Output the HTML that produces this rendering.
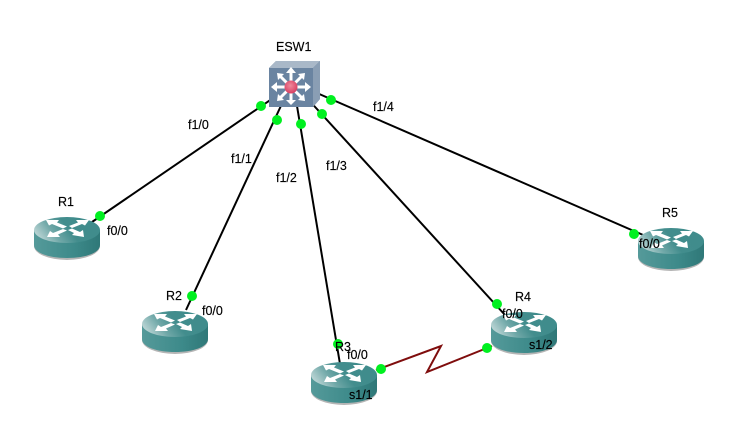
<!DOCTYPE html>
<html>
<head>
<meta charset="utf-8">
<style>
html,body{margin:0;padding:0;background:#fff;width:730px;height:435px;overflow:hidden}
svg{display:block}
text{font-family:"Liberation Sans",sans-serif;font-size:12.5px;fill:#000;stroke:#000;stroke-width:.15px}
</style>
</head>
<body>
<svg width="730" height="435" viewBox="0 0 730 435" xmlns="http://www.w3.org/2000/svg">
<defs>
<linearGradient id="top" x1="0" y1="0.7" x2="1" y2="0.4">
<stop offset="0" stop-color="#c4dada"/><stop offset="0.3" stop-color="#70a8a8"/><stop offset="0.55" stop-color="#428d8d"/><stop offset="1" stop-color="#3f8c8c"/>
</linearGradient>
<linearGradient id="side" x1="0" y1="0" x2="1" y2="0">
<stop offset="0" stop-color="#559a9a"/><stop offset="0.6" stop-color="#3d8a8a"/><stop offset="1" stop-color="#2f7878"/>
</linearGradient>
<radialGradient id="red" cx="0.45" cy="0.4" r="0.6">
<stop offset="0" stop-color="#f08a9c"/><stop offset="1" stop-color="#d83f62"/>
</radialGradient>
<g id="router">
<ellipse cx="33" cy="29" rx="33" ry="14" fill="#b5b5b5"/>
<path d="M0 13 V28 C0 36 15 41 33 41 C51 41 66 36 66 28 V13 Z" fill="url(#side)"/>
<ellipse cx="33" cy="13" rx="33" ry="13" fill="url(#top)"/>
<path d="M12 3 L25 3 L23 5.5 L33 9.5 L29 11.5 L18 7 L15 8.5 Z" fill="#fff"/>
<path d="M55 3 L42 3 L44 5.5 L35 9 L38 11 L48 7 L51 8.5 Z" fill="#fff"/>
<path d="M13 20 L26 20 L24 17.5 L33 13.5 L29 12 L19 16 L16 14 Z" fill="#fff"/>
<path d="M50 20 L38 18 L40 16 L34 13 L38 11.5 L46 15 L49 13 Z" fill="#fff"/>
</g>
</defs>

<rect width="730" height="435" fill="#fff"/>

<!-- links -->
<g stroke="#000" stroke-width="2" fill="none">
<line x1="282" y1="92" x2="92" y2="222"/>
<line x1="286" y1="95" x2="186" y2="310"/>
<line x1="296" y1="100" x2="340" y2="364"/>
<line x1="306" y1="97" x2="505" y2="315"/>
<line x1="310" y1="90" x2="650" y2="238"/>
</g>

<!-- routers -->
<use href="#router" x="34" y="217"/>
<use href="#router" x="142" y="311"/>
<use href="#router" x="311" y="362"/>
<use href="#router" x="491" y="312"/>
<use href="#router" x="638" y="228"/>

<polyline points="376,370 441,346 427,372 492,346" fill="none" stroke="#7f0d0d" stroke-width="2"/>

<!-- switch -->
<g>
<polygon points="269,68 276,61 320,61 320,99 313,107 269,107" fill="#6f8aa6"/>
<polygon points="269,68 276,61 320,61 313,68" fill="#a9b8c8"/>
<polygon points="313,68 320,61 320,99 313,107" fill="#8a9eb4"/>
<rect x="269" y="68" width="44" height="39" fill="#6a84a1"/>
<g stroke="#fff" stroke-width="3" fill="#fff">
<line x1="291" y1="87" x2="291" y2="71"/><polygon points="291,67 286,73 296,73" stroke="none"/>
<line x1="291" y1="87" x2="291" y2="102"/><polygon points="291,105 286,100 296,100" stroke="none"/>
<line x1="291" y1="87" x2="274" y2="87"/><polygon points="271,87 277,82 277,92" stroke="none"/>
<line x1="291" y1="87" x2="308" y2="87"/><polygon points="311,87 305,82 305,92" stroke="none"/>
<line x1="291" y1="87" x2="279" y2="75"/><polygon points="277,73 284,74 278,80" stroke="none"/>
<line x1="291" y1="87" x2="303" y2="75"/><polygon points="305,73 298,74 304,80" stroke="none"/>
<line x1="291" y1="87" x2="279" y2="99"/><polygon points="277,101 284,100 278,94" stroke="none"/>
<line x1="291" y1="87" x2="303" y2="99"/><polygon points="305,101 298,100 304,94" stroke="none"/>
</g>
<circle cx="291" cy="87" r="6.5" fill="url(#red)"/>
</g>

<!-- port dots -->
<g fill="#00f020">
<circle cx="261" cy="106" r="5"/>
<circle cx="277" cy="120" r="5"/>
<circle cx="301" cy="124" r="5"/>
<circle cx="322" cy="114" r="5"/>
<circle cx="331" cy="100" r="5"/>
<circle cx="100" cy="216" r="5"/>
<circle cx="192" cy="296" r="5"/>
<circle cx="338" cy="344" r="5"/>
<circle cx="497" cy="304" r="5"/>
<circle cx="634" cy="234" r="5"/>
<circle cx="381" cy="369" r="5"/>
<circle cx="487" cy="348" r="5"/>
</g>

<!-- labels -->
<text x="276" y="51">ESW1</text>
<text x="58" y="206">R1</text>
<text x="166" y="300">R2</text>
<text x="335" y="351">R3</text>
<text x="515" y="301">R4</text>
<text x="662" y="217">R5</text>
<text x="188" y="129">f1/0</text>
<text x="231" y="163">f1/1</text>
<text x="276" y="182">f1/2</text>
<text x="326" y="170">f1/3</text>
<text x="373" y="111">f1/4</text>
<text x="107" y="235">f0/0</text>
<text x="202" y="315">f0/0</text>
<text x="347" y="359">f0/0</text>
<text x="502" y="318">f0/0</text>
<text x="639" y="248">f0/0</text>
<text x="349" y="399">s1/1</text>
<text x="529" y="349">s1/2</text>
</svg>
</body>
</html>
